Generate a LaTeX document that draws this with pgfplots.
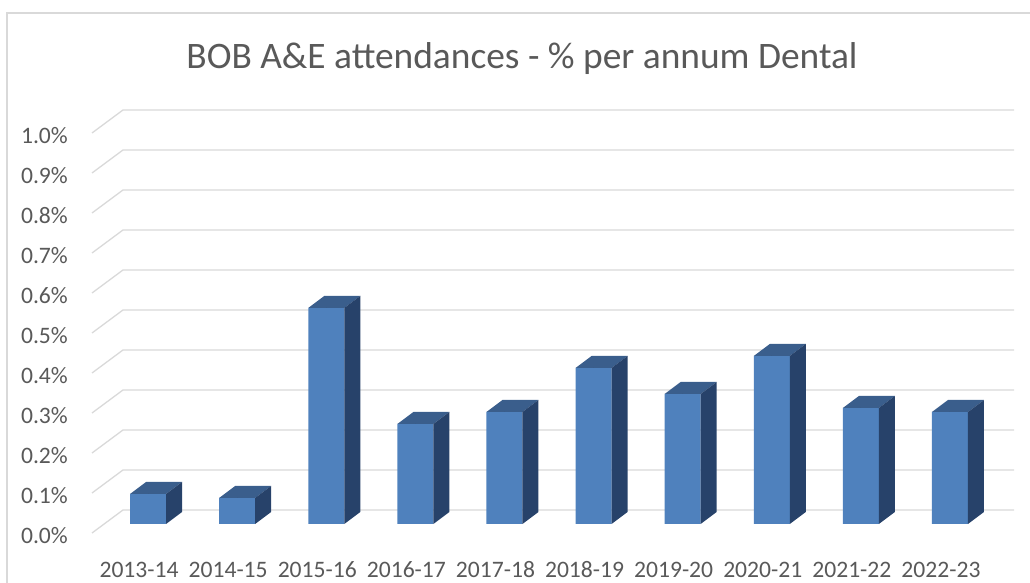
\documentclass[border=0pt]{standalone}
\usepackage{pgfplots}
\pgfplotsset{compat=1.18}
\usepackage{fontspec}
\setmainfont{Carlito}[Numbers=Monospaced]
\definecolor{txt}{HTML}{595959}
\definecolor{gridc}{HTML}{D9D9D9}
\definecolor{frontc}{HTML}{4F81BD}
\definecolor{topc}{HTML}{3A5E8C}
\definecolor{sidec}{HTML}{27426A}
\begin{document}
\begin{tikzpicture}
\useasboundingbox (0,0) rectangle (1030pt,583pt);
\draw[gridc, line width=1.3pt] (7pt,-20pt) rectangle (1050pt,570pt);
\node[anchor=base, text=txt, font=\fontsize{37.4}{40}\selectfont, inner sep=0pt] at (522pt,514pt) {BOB A\&E attendances - \% per annum Dental};
\begin{axis}[
  at={(103.5pt,59pt)}, anchor=south west,
  x=89.1pt, y=400pt,
  xmin=-0.5, xmax=9.5, ymin=0, ymax=1,
  clip=false,
  axis line style={draw=none},
  tick style={draw=none},
  xtick={0,1,2,3,4,5,6,7,8,9},
  xticklabels={2013-14,2014-15,2015-16,2016-17,2017-18,2018-19,2019-20,2020-21,2021-22,2022-23},
  ytick={0,0.1,0.2,0.3,0.4,0.5,0.6,0.7,0.8,0.9,1},
  yticklabels={0.0\%,0.1\%,0.2\%,0.3\%,0.4\%,0.5\%,0.6\%,0.7\%,0.8\%,0.9\%,1.0\%},
  tick label style={text=txt},
  xticklabel style={font=\fontsize{23.6}{25}\selectfont, anchor=base, yshift=-54pt, xshift=-9pt, inner sep=0pt},
  yticklabel style={font=\fontsize{23.6}{25}\selectfont, anchor=base east, xshift=-35.5pt, yshift=-19.5pt, inner sep=0pt},
]
\pgfplotsinvokeforeach{0,0.1,0.2,0.3,0.4,0.5,0.6,0.7,0.8,0.9,1}{
  \draw[gridc, line width=1.3pt] ([shift={(-11.5pt,-9pt)}]axis cs:-0.5,#1) -- ([shift={(19.5pt,14pt)}]axis cs:-0.5,#1) -- ([shift={(19.5pt,14pt)}]axis cs:9.5,#1);
}
\addplot[ybar, bar width=36pt, fill=frontc, draw=none] coordinates {
(0,0.075) (1,0.065) (2,0.54) (3,0.25) (4,0.28) (5,0.39) (6,0.325) (7,0.42) (8,0.29) (9,0.28)};
\addplot[scatter, only marks, mark=*, mark size=0pt,
  mark options={draw=none},
  visualization depends on={rawy \as \val},
  scatter/@pre marker code/.code={%
    \pgfmathsetlengthmacro\hh{400pt*\val}%
    \path[fill=topc, fill opacity=1, draw=none] (-18pt,0pt) -- (-2pt,12pt) -- (34pt,12pt) -- (18pt,0pt) -- cycle;
    \path[fill=sidec, fill opacity=1, draw=none] (18pt,0pt) -- (34pt,12pt) -- (34pt,12pt-\hh) -- (18pt,-\hh) -- cycle;
  },
  scatter/@post marker code/.code={}
] coordinates {
(0,0.075) (1,0.065) (2,0.54) (3,0.25) (4,0.28) (5,0.39) (6,0.325) (7,0.42) (8,0.29) (9,0.28)};
\end{axis}
\end{tikzpicture}
\end{document}
